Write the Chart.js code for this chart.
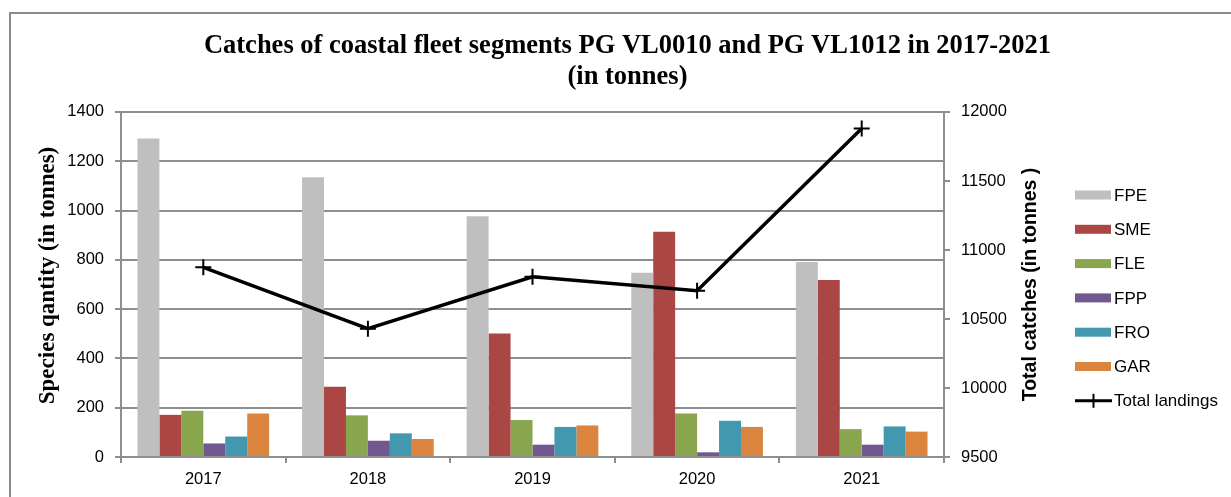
<!DOCTYPE html>
<html>
<head>
<meta charset="utf-8">
<script src="https://cdn.jsdelivr.net/npm/chart.js@4.4.1/dist/chart.umd.min.js"></script>
<style>
  html, body { margin: 0; padding: 0; background: #fff; }
  #wrap { position: relative; width: 1231px; height: 497px; }
</style>
</head>
<body>
<div id="wrap"><canvas id="catchChart" width="1231" height="497"></canvas></div>
<script>
// years on the x axis
const years = ['2017', '2018', '2019', '2020', '2021'];

// species catches (left axis, tonnes)
const fpe = [1292, 1135, 977, 748, 791];
const sme = [171, 285, 501, 914, 718];
const fle = [188, 169, 150, 177, 113];
const fpp = [55, 66, 50, 19, 50];
const fro = [83, 96, 122, 147, 124];
const gar = [177, 73, 128, 122, 103];

// total landings (right axis, tonnes)
const totalLandings = [10874, 10430, 10806, 10705, 11880];

const leftTicks = [0, 200, 400, 600, 800, 1000, 1200, 1400];
const rightTicks = [9500, 10000, 10500, 11000, 11500, 12000];

const gridColor = '#8e8e8e';
const tickFont = { family: 'Liberation Sans', size: 16.5 };

// frame, axis titles and legend drawn like the Excel original
const decorPlugin = {
  id: 'decor',
  beforeDraw(chart) {
    const ctx = chart.ctx;
    ctx.save();
    ctx.strokeStyle = '#8a8a8a';
    ctx.lineWidth = 2;
    ctx.beginPath();
    ctx.moveTo(10, 510);
    ctx.lineTo(10, 13);
    ctx.lineTo(1240, 13);
    ctx.stroke();
    ctx.restore();
  },
  afterDraw(chart) {
    const ctx = chart.ctx;
    const area = chart.chartArea;
    const midY = (area.top + area.bottom) / 2;

    ctx.save();
    ctx.fillStyle = '#000';
    ctx.textAlign = 'center';
    ctx.textBaseline = 'middle';

    ctx.save();
    ctx.translate(48, midY - 9);
    ctx.rotate(-Math.PI / 2);
    ctx.font = 'bold 23px "Liberation Serif"';
    ctx.fillText('Species qantity (in tonnes)', 0, 0);
    ctx.restore();

    ctx.save();
    ctx.translate(1031, midY);
    ctx.rotate(-Math.PI / 2);
    ctx.font = 'bold 19.5px "Liberation Sans"';
    ctx.fillText('Total catches (in tonnes )', 0, 0);
    ctx.restore();

    // legend
    const lx = 1075;
    let ly = 195;
    const step = 34.3;
    ctx.textAlign = 'left';
    ctx.font = '17px "Liberation Sans"';
    chart.data.datasets.forEach(ds => {
      if (ds.type === 'line') {
        ctx.strokeStyle = ds.borderColor;
        ctx.lineWidth = 3;
        ctx.beginPath();
        ctx.moveTo(lx, ly);
        ctx.lineTo(lx + 37, ly);
        ctx.stroke();
        ctx.lineWidth = 2;
        ctx.beginPath();
        ctx.moveTo(lx + 18.5, ly - 7);
        ctx.lineTo(lx + 18.5, ly + 7);
        ctx.stroke();
        ctx.fillStyle = '#000';
        ctx.fillText(ds.label, lx + 39, ly + 1);
      } else {
        ctx.fillStyle = ds.backgroundColor;
        ctx.fillRect(lx, ly - 4.5, 36, 9);
        ctx.fillStyle = '#000';
        ctx.fillText(ds.label, lx + 39, ly + 1);
      }
      ly += step;
    });
    ctx.restore();
  }
};

function barSet(label, data, color) {
  return {
    type: 'bar',
    label: label,
    data: data,
    backgroundColor: color,
    borderWidth: 0,
    yAxisID: 'y',
    order: 2,
    categoryPercentage: 0.8,
    barPercentage: 1.0
  };
}

const ctx = document.getElementById('catchChart').getContext('2d');
const catchChart = new Chart(ctx, {
  data: {
    labels: years,
    datasets: [
      barSet('FPE', fpe, '#bfbfbf'),
      barSet('SME', sme, '#aa4643'),
      barSet('FLE', fle, '#89a54e'),
      barSet('FPP', fpp, '#71588f'),
      barSet('FRO', fro, '#4198af'),
      barSet('GAR', gar, '#db843d'),
      {
        type: 'line',
        label: 'Total landings',
        data: totalLandings,
        borderColor: '#000',
        backgroundColor: '#000',
        borderWidth: 3.5,
        pointStyle: 'cross',
        pointRadius: 8,
        pointBorderWidth: 2,
        tension: 0,
        yAxisID: 'y1',
        order: 1
      }
    ]
  },
  options: {
    responsive: false,
    animation: false,
    // right padding kept at 0 so the title centres on the whole frame
    layout: { padding: { left: 24, right: 0, top: 0, bottom: 0 } },
    plugins: {
      legend: { display: false },
      tooltip: { enabled: false },
      title: {
        display: true,
        text: ['Catches of coastal fleet segments PG VL0010 and PG VL1012 in 2017-2021', '(in tonnes)'],
        color: '#000',
        font: { family: 'Liberation Serif', size: 26.5, weight: 'bold', lineHeight: 1.15 },
        padding: { top: 31, bottom: 20 }
      }
    },
    scales: {
      x: {
        grid: { offset: true, drawOnChartArea: false, color: gridColor, lineWidth: 2, tickLength: 6 },
        border: { color: gridColor, width: 2 },
        ticks: { color: '#000', font: tickFont, padding: 7 },
        afterFit(scale) { scale.height = 40; }
      },
      y: {
        position: 'left',
        min: 0,
        max: 1400,
        afterBuildTicks(scale) { scale.ticks = leftTicks.map(v => ({ value: v })); },
        grid: { color: gridColor, lineWidth: 2, tickLength: 6 },
        border: { color: gridColor, width: 2 },
        ticks: { color: '#000', font: tickFont, padding: 11, callback: v => String(v) },
        afterFit(scale) { scale.width = 97; }
      },
      y1: {
        position: 'right',
        min: 9500,
        max: 12000,
        afterBuildTicks(scale) { scale.ticks = rightTicks.map(v => ({ value: v })); },
        grid: { drawOnChartArea: false, color: gridColor, lineWidth: 2, tickLength: 6 },
        border: { color: gridColor, width: 2 },
        ticks: { color: '#000', font: tickFont, padding: 11, callback: v => String(v) },
        afterFit(scale) { scale.width = 287; }
      }
    }
  },
  plugins: [decorPlugin]
});
</script>
</body>
</html>
